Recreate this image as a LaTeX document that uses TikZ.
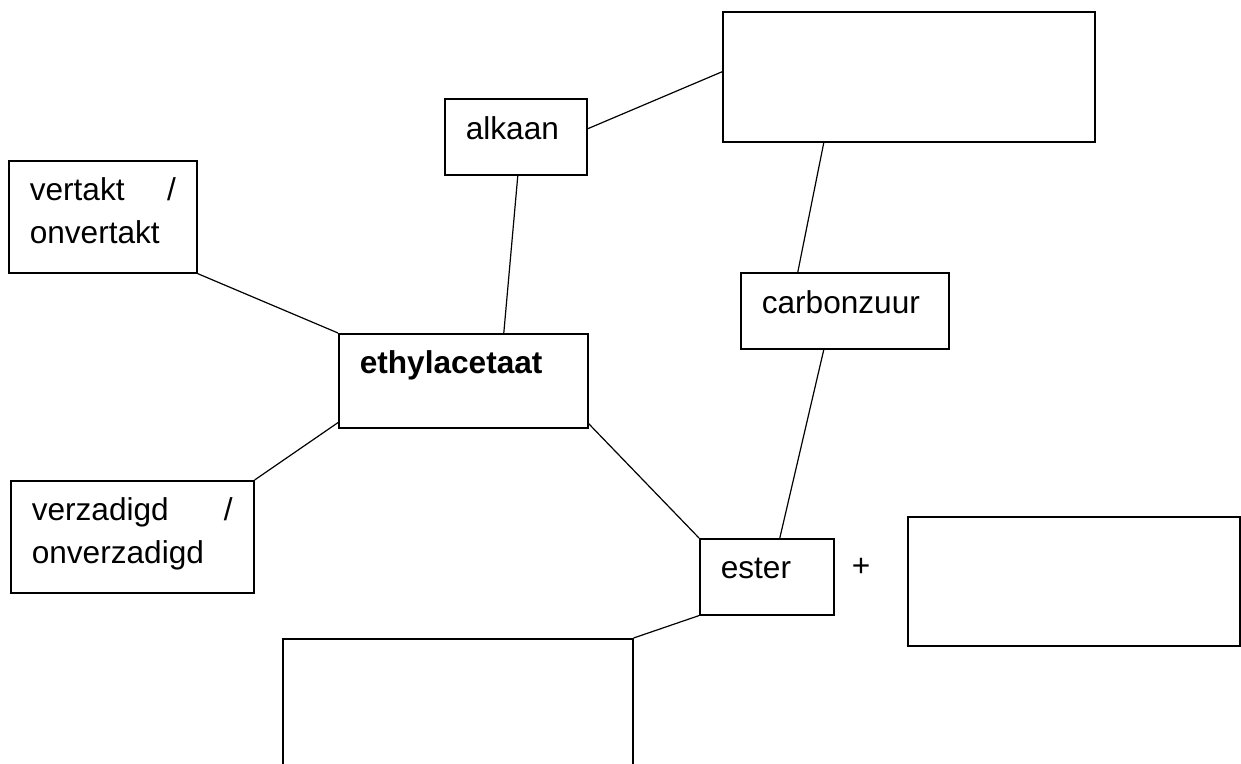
\documentclass[tikz,border=0pt]{standalone}
\usepackage{fontspec}
\setmainfont{Liberation Sans}
\usetikzlibrary{positioning,calc}
\tikzset{
  box/.style={draw,line width=0.8pt,anchor=north west,inner xsep=10.5pt,inner ysep=0pt,align=left,font=\fontsize{15.8pt}{21.5pt}\selectfont},
  emptybox/.style={draw,line width=0.8pt,anchor=north west,inner sep=0pt},
  sign/.style={font=\fontsize{15.8pt}{21.5pt}\selectfont,inner sep=0pt},
  link/.style={line width=0.6pt}
}

\begin{document}
\begin{tikzpicture}[x=0.5pt,y=-0.5pt]
\useasboundingbox (0,0) rectangle (1241,764);

% boxes with text
\node[box,text width=50pt,text height=20.5pt,text depth=17.5pt] (alkaan) at (444,98) {alkaan};
\node[box,text width=73pt,text height=20pt,text depth=36pt] (vertakt) at (8,160) {vertakt\hfill/\\onvertakt};
\node[box,text width=103.5pt,text height=20pt,text depth=27pt] (ethyl) at (338,333) {\textbf{ethylacetaat}};
\node[box,text width=83pt,text height=20.5pt,text depth=17.5pt] (carbon) at (740,272) {carbonzuur};
\node[box,text width=100.5pt,text height=20pt,text depth=36pt] (verzadigd) at (10,480) {verzadigd\hfill/\\onverzadigd};
\node[box,text width=46pt,text height=20pt,text depth=18pt] (ester) at (699,538) {ester};

% empty boxes
\node[emptybox,minimum width=186pt,minimum height=65pt] (open1) at (722,11) {};
\node[emptybox,minimum width=166pt,minimum height=64.5pt] (open2) at (907,516) {};
\node[emptybox,minimum width=175pt,minimum height=70pt] (open3) at (282,638) {};

\node[sign] (plus) at (861,567) {+};

% connectors
\draw[link] ([yshift=4pt]alkaan.east) -- ([yshift=2.5pt]open1.west);
\draw[link] ([xshift=1pt]alkaan.south) -- ([xshift=20.25pt]ethyl.north);
\draw[link] ([xshift=-42.5pt]open1.south) -- ([xshift=-23.5pt]carbon.north);
\draw[link] (vertakt.south east) -- (ethyl.north west);
\draw[link] ([yshift=3pt]ethyl.south west) -- (verzadigd.north east);
\draw[link] ([yshift=2.5pt]ethyl.south east) -- (ester.north west);
\draw[link] ([xshift=-10.5pt]carbon.south) -- ([xshift=6.5pt]ester.north);
\draw[link] (ester.south west) -- (open3.north east);
\end{tikzpicture}
\end{document}
